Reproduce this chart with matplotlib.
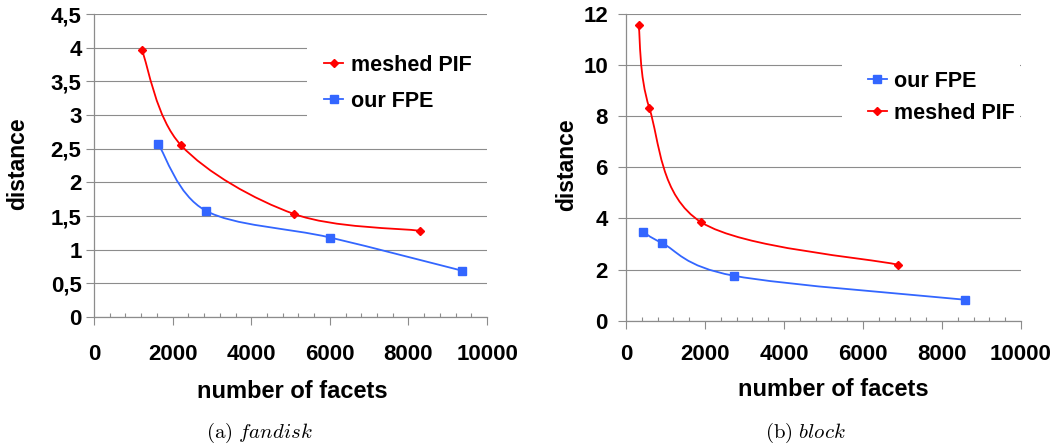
import matplotlib
matplotlib.use('Agg')
import matplotlib.pyplot as plt
from matplotlib.path import Path
from matplotlib.patches import PathPatch, Rectangle
from matplotlib.lines import Line2D
from matplotlib.ticker import FuncFormatter, MultipleLocator
import numpy as np

# (a) fandisk
fan_pif_x = [1220, 2215, 5090, 8300]
fan_pif_y = [3.96, 2.55, 1.53, 1.28]
fan_fpe_x = [1630, 2840, 6010, 9350]
fan_fpe_y = [2.57, 1.58, 1.18, 0.69]

# (b) block
blk_pif_x = [320, 590, 1905, 6885]
blk_pif_y = [11.55, 8.32, 3.85, 2.19]
blk_fpe_x = [430, 910, 2725, 8580]
blk_fpe_y = [3.48, 3.04, 1.76, 0.82]

RED = '#ff0000'
BLUE = '#3366ff'
GREY = '#8c8c8c'

plt.rcParams['font.family'] = ['Liberation Sans', 'DejaVu Sans']
plt.rcParams['font.weight'] = 'bold'
plt.rcParams['mathtext.fontset'] = 'cm'


def smooth_path(xs, ys):
	# excel-like smoothed line: catmull-rom segments as cubic beziers
	p = np.column_stack([xs, ys]).astype(float)
	ext = np.vstack([p[0], p, p[-1]])
	verts = [p[0]]
	codes = [Path.MOVETO]
	for i in range(len(p) - 1):
		c1 = ext[i + 1] + (ext[i + 2] - ext[i]) / 6.0
		c2 = ext[i + 2] - (ext[i + 3] - ext[i + 1]) / 6.0
		verts += [c1, c2, ext[i + 2]]
		codes += [Path.CURVE4] * 3
	return Path(verts, codes)


def series(ax, xs, ys, color, marker, ms):
	ax.add_patch(PathPatch(smooth_path(xs, ys), facecolor='none', edgecolor=color, lw=1.3, zorder=2))
	ax.plot(xs, ys, linestyle='none', marker=marker, ms=ms, color=color, zorder=3)
	return Line2D([], [], color=color, lw=1.3, marker=marker, ms=ms)


def setup(ax, ymax, ystep, ypad, xpad):
	ax.set_xlim(0, 10000)
	ax.set_ylim(0, ymax)
	ax.xaxis.set_major_locator(MultipleLocator(2000))
	ax.xaxis.set_minor_locator(MultipleLocator(400))
	ax.yaxis.set_major_locator(MultipleLocator(ystep))
	fmt = FuncFormatter(lambda v, p: ('%g' % v).replace('.', ','))
	ax.yaxis.set_major_formatter(fmt)
	for s in ['top', 'right']:
		ax.spines[s].set_visible(False)
	for s in ['left', 'bottom']:
		ax.spines[s].set_color(GREY)
		ax.spines[s].set_linewidth(0.9)
	ax.tick_params(axis='y', which='major', direction='out', length=6, width=0.8, color=GREY, labelsize=16, pad=ypad)
	ax.tick_params(axis='x', which='major', direction='out', length=6, width=0.8, color=GREY, labelsize=16, pad=xpad)
	ax.tick_params(axis='x', which='minor', direction='in', length=3, width=0.8, color=GREY)
	ax.set_axisbelow(True)
	ax.grid(axis='y', color=GREY, lw=0.8)
	ax.get_ygridlines()[-1].set_visible(False)


fig = plt.figure(figsize=(10.6, 4.48), dpi=100)
ax1 = fig.add_axes([0.0887, 0.2924, 0.3708, 0.6763])
ax2 = fig.add_axes([0.5906, 0.2842, 0.3726, 0.6846])

setup(ax1, 4.5, 0.5, 3, 13.5)
setup(ax2, 12, 2, 7, 11)

h_pif = series(ax1, fan_pif_x, fan_pif_y, RED, 'D', 4.2)
h_fpe = series(ax1, fan_fpe_x, fan_fpe_y, BLUE, 's', 6)
ax1.add_patch(Rectangle((0.542, 0.63), 0.458, 0.29, transform=ax1.transAxes, facecolor='white', edgecolor='none', zorder=1))
ax1.legend([h_pif, h_fpe], ['meshed PIF', 'our FPE'], loc='center left', bbox_to_anchor=(0.585, 0.772),
	frameon=False, fontsize=15.5, handlelength=0.9, handletextpad=0.35, labelspacing=0.7, borderpad=0, borderaxespad=0)

h_fpe2 = series(ax2, blk_fpe_x, blk_fpe_y, BLUE, 's', 6)
h_pif2 = series(ax2, blk_pif_x, blk_pif_y, RED, 'D', 4.2)
ax2.add_patch(Rectangle((0.547, 0.60), 0.45, 0.28, transform=ax2.transAxes, facecolor='white', edgecolor='none', zorder=1))
ax2.legend([h_fpe2, h_pif2], ['our FPE', 'meshed PIF'], loc='center left', bbox_to_anchor=(0.612, 0.728),
	frameon=False, fontsize=15.5, handlelength=0.9, handletextpad=0.3, labelspacing=0.5, borderpad=0, borderaxespad=0)

W, H = 1060.0, 448.0
fig.text(18 / W, 1 - 164 / H, 'distance', rotation=90, ha='center', va='center', fontsize=16.5)
fig.text(567 / W, 1 - 165 / H, 'distance', rotation=90, ha='center', va='center', fontsize=16.5)
fig.text(292 / W, 1 - 391 / H, 'number of facets', ha='center', va='center', fontsize=17)
fig.text(833 / W, 1 - 389 / H, 'number of facets', ha='center', va='center', fontsize=17)
fig.text(259 / W, 1 - 433 / H, r'$\mathrm{(a)}\ fandisk$', ha='center', va='center', fontsize=15)
fig.text(805 / W, 1 - 433 / H, r'$\mathrm{(b)}\ block$', ha='center', va='center', fontsize=15)

fig.savefig('out.png', dpi=100, facecolor='white')
